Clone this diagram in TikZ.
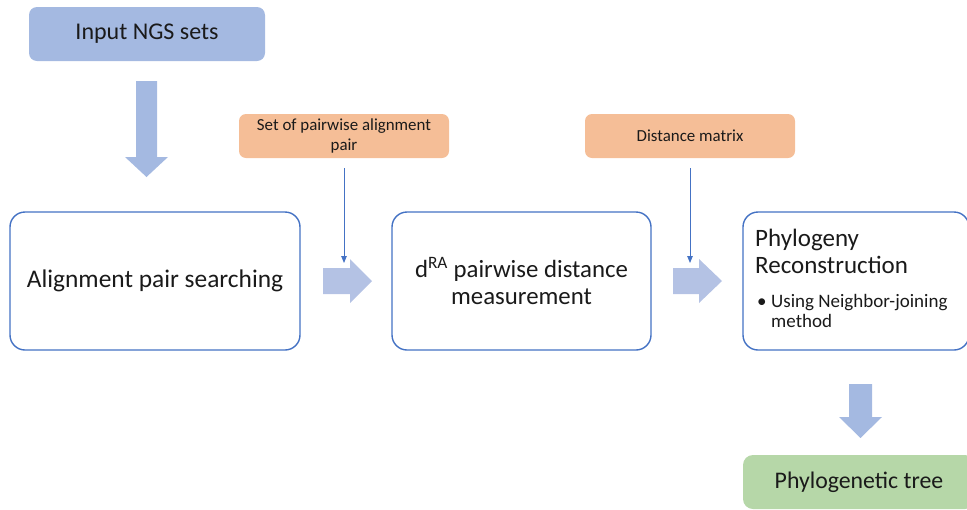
\documentclass[tikz,border=0pt]{standalone}
\usepackage{fontspec}
\setmainfont{Carlito}
\usetikzlibrary{arrows.meta}

\definecolor{inblue}{HTML}{A4B9E1}
\definecolor{flowblue}{HTML}{B4C2E4}
\definecolor{noteorange}{HTML}{F5BE97}
\definecolor{outgreen}{HTML}{B6D7A8}
\definecolor{edgeblue}{HTML}{4472C4}
\definecolor{ink}{HTML}{1A1A1A}

\tikzset{
  filledbox/.style={rectangle, draw=none, text=ink, inner sep=0pt},
  inputbox/.style={filledbox, fill=inblue, rounded corners=8pt,
    font=\fontsize{24}{26}\selectfont},
  notebox/.style={filledbox, fill=noteorange, rounded corners=7pt,
    minimum width=210pt, minimum height=44pt, align=center,
    font=\fontsize{16.9}{20}\selectfont},
  stagebox/.style={rectangle, draw=edgeblue, line width=1.4pt, fill=white,
    rounded corners=15pt, text=ink, inner sep=0pt, minimum height=138pt,
    align=center, font=\fontsize{24.8}{27}\selectfont},
  outputbox/.style={filledbox, fill=outgreen, rounded corners=10pt,
    font=\fontsize{23.8}{26}\selectfont},
  feed/.style={draw=edgeblue, line width=0.9pt,
    -{Triangle[length=7pt,width=5.5pt]}},
  plaintext/.style={inner sep=0pt, text=ink},
}

\begin{document}
\begin{tikzpicture}[x=1pt, y=-1pt]
\useasboundingbox (0,0) rectangle (967,509);
\clip (0,0) rectangle (967,509);

% input and output
\node[inputbox, minimum width=236pt, minimum height=54pt] (input) at (147,34) {Input NGS sets};
\node[outputbox, minimum width=232pt, minimum height=54pt] (tree) at (859,482) {Phylogenetic tree};

% intermediate products
\node[notebox] (pairs) at (344,136) {Set of pairwise alignment\\pair};
\node[notebox] (matrix) at (690,136) {Distance matrix};

% processing stages
\node[stagebox, minimum width=290pt] (search) at (155,281)
  {\fontsize{25.4}{27}\selectfont Alignment pair searching};
\node[stagebox, minimum width=259pt] (dist) at (521.5,281) {d\textsuperscript{RA} pairwise distance\\measurement};
\node[stagebox, minimum width=226pt] (phylo) at (856,281) {};

% text of the reconstruction stage
\node[plaintext, anchor=base west, font=\fontsize{25}{27}\selectfont] (ph1) at (755,246) {Phylogeny};
\node[plaintext, anchor=base west, font=\fontsize{25}{27}\selectfont] (ph2) at (755,273) {Reconstruction};
\node[plaintext, anchor=base west, font=\fontsize{19}{20}\selectfont] (bul) at (757,307) {•};
\node[plaintext, anchor=base west, font=\fontsize{19}{20}\selectfont] (nj1) at (771,307) {Using Neighbor-joining};
\node[plaintext, anchor=base west, font=\fontsize{19}{20}\selectfont] (nj2) at (771,327) {method};

% block arrows between stages
\fill[inblue] (136,81) -- (157,81) -- (157,157) -- (168,157) -- (146.5,177)
  -- (125,157) -- (136,157) -- cycle;
\fill[flowblue] (323,268) -- (350,268) -- (350,259) -- (372,281) -- (350,303)
  -- (350,294) -- (323,294) -- cycle;
\fill[flowblue] (673,268) -- (699,268) -- (699,259) -- (722,281) -- (699,303)
  -- (699,294) -- (673,294) -- cycle;
\fill[inblue] (849,384) -- (872,384) -- (872,417) -- (882,417) -- (860.5,438)
  -- (839,417) -- (849,417) -- cycle;

% feeds from the intermediate products
\coordinate (pairsin) at (344,263);
\coordinate (matrixin) at (690,263);
\draw[feed] ([yshift=-10pt]pairs.south) -- (pairsin);
\draw[feed] ([yshift=-10pt]matrix.south) -- (matrixin);
\end{tikzpicture}
\end{document}
